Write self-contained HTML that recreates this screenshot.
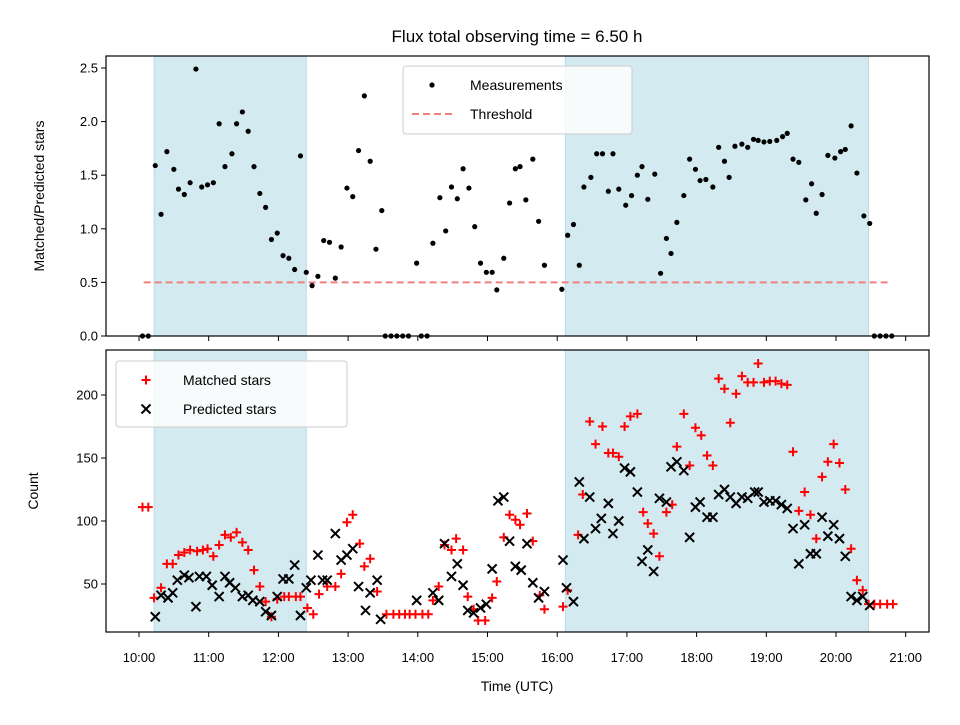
<!DOCTYPE html>
<html><head><meta charset="utf-8"><style>
body{margin:0;background:#fff}
svg text{font-family:"Liberation Sans","DejaVu Sans",sans-serif;fill:#000}
</style></head><body>
<svg id="chart" width="960" height="720" viewBox="0 0 960 720" xmlns="http://www.w3.org/2000/svg">
<rect width="960" height="720" fill="#fff"/>
<text x="517" y="42" font-size="17" text-anchor="middle">Flux total observing time = 6.50 h</text>
<g id="topPanel"></g><g id="botPanel"></g>
<text transform="translate(44,196) rotate(-90)" font-size="14" text-anchor="middle">Matched/Predicted stars</text>
<text transform="translate(38,491) rotate(-90)" font-size="14" text-anchor="middle">Count</text>
<text x="517" y="691" font-size="14" text-anchor="middle">Time (UTC)</text>
</svg>
<script>
const shadeSpans=[[13,144],[367,628]];
const xTickLabels=["10:00","11:00","12:00","13:00","14:00","15:00","16:00","17:00","18:00","19:00","20:00","21:00"];
const topTicks=[0,0.5,1,1.5,2,2.5];
const botTicks=[50,100,150,200];
const threshold=0.5;
const ratioTimes=[3,8,14,19,24,30,34,39,44,49,54,59,64,69,74,80,84,89,94,99,104,109,114,119,124,129,134,139,144,149,154,159,164,169,174,179,184,189,194,199,204,209,212,217,222,227,232,239,243,248,253,259,264,269,274,279,284,289,294,299,304,308,314,319,324,328,333,339,344,349,364,369,374,379,383,389,394,399,404,408,413,419,424,429,433,438,444,449,454,458,463,469,474,479,483,488,494,499,504,508,513,519,524,529,533,538,543,549,554,558,563,568,574,579,583,588,593,599,604,608,613,618,624,629,633,638,643,648];
const ratioValues=[0,0,1.59,1.135,1.72,1.555,1.37,1.32,1.43,2.49,1.39,1.41,1.43,1.98,1.58,1.70,1.98,2.09,1.91,1.58,1.33,1.20,0.90,0.96,0.75,0.725,0.62,1.68,0.594,0.47,0.557,0.89,0.874,0.54,0.83,1.38,1.30,1.73,2.24,1.63,0.81,1.17,0,0,0,0,0,0.68,0,0,0.865,1.29,0.98,1.39,1.28,1.56,1.38,1.02,0.68,0.594,0.594,0.43,0.725,1.24,1.56,1.58,1.27,1.65,1.07,0.66,0.436,0.94,1.04,0.66,1.39,1.48,1.70,1.70,1.35,1.70,1.37,1.22,1.31,1.50,1.58,1.275,1.51,0.585,0.91,0.77,1.06,1.31,1.65,1.555,1.45,1.46,1.39,1.76,1.63,1.48,1.77,1.79,1.76,1.835,1.825,1.81,1.815,1.825,1.86,1.89,1.65,1.62,1.27,1.42,1.145,1.32,1.685,1.66,1.72,1.74,1.96,1.52,1.12,1.05,0,0,0,0];
const matchedTimes=[3,8,13,19,24,29,34,39,44,50,55,59,64,69,74,79,84,89,94,99,104,109,114,119,125,129,135,139,145,150,155,162,169,174,179,184,190,194,199,205,213,219,224,229,233,238,244,249,253,258,263,269,273,279,283,288,292,298,304,308,314,319,324,328,334,339,345,349,365,369,378,382,388,393,399,404,408,413,418,423,429,434,438,443,448,454,459,463,469,474,479,484,489,494,499,504,509,514,519,524,529,533,538,543,548,553,558,563,568,573,578,583,588,593,598,603,608,613,618,623,628,633,638,644,649];
const matchedValues=[111,111,39,47,66,66,73,75,77,76,77,78,72,81,89,87,91,83,77,61,48,36,24,38,40,40,40,40,31,26,42,48,48,58,99,105,82,64,70,44,26,26,26,26,26,26,26,26,37,48,81,77,86,77,40,30,21,21,39,52,87,105,101,97,106,84,41,30,32,45,89,121,179,161,175,154,154,151,175,183,185,107,98,90,72,107,113,159,185,144,174,168,152,144,213,205,178,201,215,210,210,225,210,211,211,209,208,155,108,123,105,86,135,147,161,146,125,78,53,45,34,34,34,34,34];
const predTimes=[14,19,25,29,33,39,43,49,52,58,63,69,74,78,83,89,94,98,104,109,114,119,124,129,134,139,144,148,154,158,162,169,174,179,184,189,195,199,205,208,239,253,258,263,269,274,279,283,288,294,299,304,309,314,319,324,329,334,339,344,349,365,368,374,379,383,388,393,398,404,408,413,418,423,429,433,438,443,448,454,458,463,469,474,479,483,489,494,499,504,509,514,519,524,530,533,538,543,548,553,558,563,568,573,578,583,588,593,598,603,608,613,618,623,629];
const predValues=[24,41,39,43,53,57,55,32,56,56,49,40,56,51,47,40,41,37,36,28,25,40,54,54,65,25,47,53,73,53,53,90,69,73,78,48,29,43,53,22,37,43,37,82,56,66,49,29,27,31,34,62,116,119,84,64,61,82,51,39,44,69,47,36,131,86,119,94,102,114,90,100,142,139,123,68,77,60,118,115,143,147,140,87,111,115,103,103,121,125,119,114,119,118,123,123,115,116,116,113,110,94,66,97,74,74,103,88,97,86,72,40,37,40,33];

const NS="http://www.w3.org/2000/svg";
const X=m=>139+m/60*69.7;
const YT=v=>336-v*107.2;
const YB=c=>395+(200-c)*1.26;
function mk(tag,attrs,parent){const e=document.createElementNS(NS,tag);for(const k in attrs)e.setAttribute(k,attrs[k]);parent.appendChild(e);return e;}
const AL=106,AR=929;
function panel(g,y0,y1,name){
  shadeSpans.forEach((s,i)=>{
    const r=mk('rect',{x:X(s[0]),y:y0,width:X(s[1])-X(s[0]),height:y1-y0,fill:'#d4eaf1',stroke:'#bcdbe6','stroke-width':1},g);
    
    
  });
}
function frame(g,y0,y1,name){
  const f=mk('rect',{x:AL,y:y0,width:AR-AL,height:y1-y0,fill:'none',stroke:'#000','stroke-width':1.2},g);
  
  
  xTickLabels.forEach((t,i)=>{
    const x=X(i*60);
    mk('line',{x1:x,x2:x,y1:y1,y2:y1+5,stroke:'#000','stroke-width':1},g);
  });
}
const gTop=document.getElementById('topPanel'),gBot=document.getElementById('botPanel');
panel(gTop,56,336,'top');panel(gBot,350,632,'bottom');
const th=mk('line',{x1:X(4),x2:X(648),y1:YT(threshold),y2:YT(threshold),stroke:'#f08080','stroke-width':2,'stroke-dasharray':'7,4'},gTop);


const nR=Math.min(ratioTimes.length,ratioValues.length);
for(let i=0;i<nR;i++){
  const c=mk('circle',{cx:X(ratioTimes[i]),cy:YT(ratioValues[i]),r:2.6,fill:'#000'},gTop);
  
  
}
const nM=Math.min(matchedTimes.length,matchedValues.length);
for(let i=0;i<nM;i++){
  const x=X(matchedTimes[i]),y=YB(matchedValues[i]);
  const p=mk('path',{d:`M${x-4.5},${y}H${x+4.5}M${x},${y-4.5}V${y+4.5}`,stroke:'#f00','stroke-width':2,fill:'none'},gBot);
  
  
}
const nP=Math.min(predTimes.length,predValues.length);
for(let i=0;i<nP;i++){
  const x=X(predTimes[i]),y=YB(predValues[i]);
  const p=mk('path',{d:`M${x-4.5},${y-4.5}L${x+4.5},${y+4.5}M${x-4.5},${y+4.5}L${x+4.5},${y-4.5}`,stroke:'#000','stroke-width':2,fill:'none'},gBot);
  
  
}
frame(gTop,56,336,'top');frame(gBot,350,632,'bottom');
topTicks.forEach(v=>{
  const y=YT(v);
  mk('line',{x1:AL-5,x2:AL,y1:y,y2:y,stroke:'#000'},gTop);
  const t=mk('text',{x:AL-8,y:y+4.5,'font-size':13,'text-anchor':'end'},gTop);t.textContent=v.toFixed(1);
  
  
});
botTicks.forEach(v=>{
  const y=YB(v);
  mk('line',{x1:AL-5,x2:AL,y1:y,y2:y,stroke:'#000'},gBot);
  const t=mk('text',{x:AL-8,y:y+4.5,'font-size':13,'text-anchor':'end'},gBot);t.textContent=v;
  
  
});
xTickLabels.forEach((s,i)=>{
  const t=mk('text',{x:X(i*60),y:662,'font-size':13,'text-anchor':'middle'},gBot);t.textContent=s;
  
  
});
const lg1=mk('g',{},gTop);


mk('rect',{x:403,y:66,width:229,height:68,rx:3,fill:'#fff','fill-opacity':0.8,stroke:'#ccc'},lg1);
mk('circle',{cx:432,cy:85,r:2.6,fill:'#000'},lg1);
let t=mk('text',{x:470,y:90,'font-size':14},lg1);t.textContent='Measurements';
mk('line',{x1:412,x2:452,y1:114,y2:114,stroke:'#f08080','stroke-width':2,'stroke-dasharray':'7,4'},lg1);
t=mk('text',{x:470,y:119,'font-size':14},lg1);t.textContent='Threshold';
const lg2=mk('g',{},gBot);


mk('rect',{x:116,y:361,width:231,height:66,rx:3,fill:'#fff','fill-opacity':0.8,stroke:'#ccc'},lg2);
mk('path',{d:'M141.5,380H150.5M146,375.5V384.5',stroke:'#f00','stroke-width':2},lg2);
t=mk('text',{x:183,y:385,'font-size':14},lg2);t.textContent='Matched stars';
mk('path',{d:'M141.5,404.5L150.5,413.5M141.5,413.5L150.5,404.5',stroke:'#000','stroke-width':2},lg2);
t=mk('text',{x:183,y:414,'font-size':14},lg2);t.textContent='Predicted stars';
</script>
</body></html>
